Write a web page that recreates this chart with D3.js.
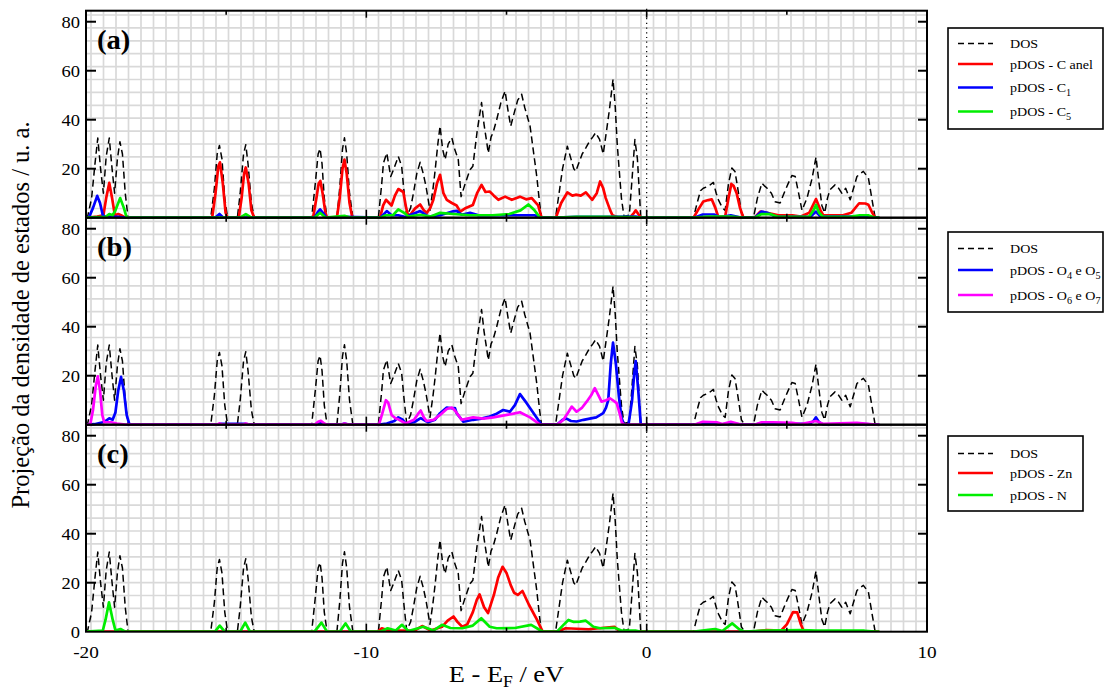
<!DOCTYPE html>
<html><head><meta charset="utf-8">
<script src="https://cdn.jsdelivr.net/npm/d3@7"></script>
<style>
body{margin:0;background:#fff}
svg{display:block}
</style>
</head><body><svg id="chart" width="1112" height="695" font-family="'Liberation Serif', 'DejaVu Serif', serif"></svg>
<script>
// ---------- data ----------
const xTicksMajor = [-20, -10, 0, 10];
const xTicksMinor = [-15, -5, 5];
const yTicks = [20, 40, 60, 80];
const panelLabels = ["(a)", "(b)", "(c)"];

const dos = [[-20,0],[-19.95,0],[-19.8,8],[-19.68,22],[-19.58,32.5],[-19.48,20],[-19.38,10],[-19.28,25],[-19.17,32.5],[-19.07,20],[-18.98,10],[-18.88,24],[-18.79,31],[-18.7,26],[-18.6,10],[-18.5,0],
[-15.55,0],[-15.42,12],[-15.32,26],[-15.24,29.5],[-15.15,24],[-15.05,8],[-14.95,0],
[-14.6,0],[-14.5,10],[-14.38,26],[-14.3,29.8],[-14.22,22],[-14.1,6],[-14.0,0],
[-11.95,0],[-11.82,14],[-11.72,26],[-11.65,28.2],[-11.58,22],[-11.5,8],[-11.4,0],
[-11.05,0],[-10.95,12],[-10.85,28],[-10.78,32.6],[-10.7,26],[-10.6,10],[-10.48,0],
[-9.57,0],[-9.45,14],[-9.39,22.3],[-9.27,26.4],[-9.13,16.8],[-9.03,19.6],[-8.86,25],[-8.74,21],[-8.65,10],[-8.56,0.5],[-8.42,4],[-8.32,10],[-8.2,18],[-8.08,22.6],[-7.97,18],[-7.87,12.7],[-7.73,3],[-7.62,12],[-7.55,18.9],[-7.45,30],[-7.37,37.4],[-7.28,28],[-7.19,23.7],[-7.08,30],[-6.95,32.6],[-6.85,28],[-6.72,23.7],[-6.62,8.6],[-6.5,13],[-6.38,17],[-6.3,19.6],[-6.2,21],[-6.05,35],[-5.89,47],[-5.8,38],[-5.72,32],[-5.65,26.4],[-5.55,33],[-5.48,34.7],[-5.35,40],[-5.2,47],[-5.05,51.7],[-4.95,44],[-4.85,37.4],[-4.72,43],[-4.6,48],[-4.46,50.4],[-4.35,45],[-4.16,37.4],[-4.05,28],[-3.92,16.8],[-3.82,6],[-3.75,0],
[-3.25,0],[-3.1,12],[-3.0,20],[-2.83,29.2],[-2.7,24],[-2.6,20],[-2.53,18.9],[-2.43,22],[-2.3,26],[-2.17,28.5],[-2.05,31],[-1.92,33],[-1.82,34.7],[-1.68,32],[-1.55,26],[-1.45,34],[-1.33,44],[-1.2,56.5],[-1.12,45],[-1.05,30],[-0.99,21],[-0.9,8],[-0.81,0.5],[-0.62,1],[-0.52,16],[-0.42,31.9],[-0.33,24],[-0.26,10],[-0.21,0],
[1.67,0],[1.8,6],[1.92,11],[2.02,12],[2.12,12.5],[2.22,13],[2.38,14.4],[2.48,10],[2.56,7.3],[2.7,4],[2.8,3],[2.92,14],[3.04,20.3],[3.15,18.9],[3.25,12],[3.38,2],[3.5,0],
[3.81,0],[3.95,8],[4.11,14.1],[4.2,13],[4.29,12.1],[4.45,10],[4.58,6.5],[4.76,6],[4.9,10],[5.05,14],[5.18,17.2],[5.3,16.8],[5.42,10],[5.54,3],[5.72,8],[5.9,16],[6.04,24.7],[6.15,14],[6.25,5],[6.35,2],[6.45,8],[6.54,11.4],[6.72,13.4],[6.85,12],[6.96,10],[7.1,12],[7.26,7.3],[7.38,12],[7.5,16.8],[7.62,18],[7.73,18.9],[7.91,16.2],[8.03,8],[8.15,0],[8.3,0]];

const cAnel = [[-20,0],[-19.9,0],[-19.6,0.5],[-19.38,1],[-19.28,8],[-19.17,14.2],[-19.07,8],[-18.97,1],[-18.85,1.5],[-18.75,1],[-18.6,0],
[-15.5,0],[-15.38,10],[-15.28,21],[-15.22,22.6],[-15.12,14],[-15.02,2],[-14.95,0],
[-14.55,0],[-14.45,8],[-14.36,18],[-14.3,20.5],[-14.2,14],[-14.1,3],[-14.0,0],
[-11.9,0],[-11.78,8],[-11.7,14],[-11.64,15],[-11.56,10],[-11.46,2],[-11.4,0],
[-11.05,0],[-10.95,8],[-10.85,20],[-10.78,23.7],[-10.7,18],[-10.6,6],[-10.5,0],
[-9.51,0],[-9.4,5],[-9.3,7.3],[-9.1,5],[-8.98,9],[-8.86,11.7],[-8.68,10.5],[-8.58,4],[-8.5,0.5],[-8.38,2],[-8.26,3.8],[-8.08,5.4],[-7.95,3],[-7.84,2],[-7.72,4],[-7.61,7.3],[-7.48,14],[-7.37,17.5],[-7.25,10],[-7.13,7.3],[-6.95,6],[-6.78,5],[-6.65,2.5],[-6.45,4],[-6.2,5.2],[-6.05,10],[-5.89,13.4],[-5.75,10.5],[-5.6,10.7],[-5.45,9],[-5.29,7.3],[-5.05,8.6],[-4.81,7.3],[-4.52,8.6],[-4.3,7.5],[-4.1,8],[-3.87,5],[-3.75,0],
[-3.24,0],[-3.05,6],[-2.83,10.3],[-2.65,9],[-2.53,9.4],[-2.35,9],[-2.17,10.3],[-1.94,7.3],[-1.78,10],[-1.66,14.8],[-1.55,12],[-1.46,8],[-1.3,3],[-1.22,1],[-0.99,0],[-0.6,0],[-0.45,2],[-0.39,3],[-0.3,1.5],[-0.2,0],
[1.67,0],[1.85,3.5],[2.02,6.6],[2.2,7.2],[2.32,7.5],[2.45,4],[2.55,0.5],[2.8,0.5],[2.92,8],[3.02,13.8],[3.1,13],[3.21,10],[3.33,4],[3.45,0],
[3.85,0],[4.05,2.5],[4.29,2],[4.5,1.5],[4.7,1],[5.2,1],[5.5,0.5],[5.8,2],[6.04,7.6],[6.2,3],[6.3,1],[6.6,1],[7.0,1],[7.3,2],[7.58,5.9],[7.8,5.8],[7.91,5.3],[8.05,2],[8.15,0],[8.3,0]];

const c1 = [[-20,0],[-19.9,0],[-19.75,4],[-19.6,8.9],[-19.5,6],[-19.4,1],[-19.3,0.3],[-19.17,0.5],[-18.8,0.3],[-18.6,0],
[-15.4,0],[-15.24,1.5],[-15.1,0],
[-11.85,0],[-11.72,2.5],[-11.65,3.4],[-11.55,2],[-11.42,0],[-10.78,0.3],
[-9.5,0],[-9.27,2.7],[-9.1,1],[-8.86,1],[-8.6,0.3],[-8.08,2.7],[-7.8,0.5],[-7.37,1],[-6.9,2.6],[-6.78,2.8],[-6.6,1.2],[-6.3,2],[-6.0,1],[-5.5,1],[-5.0,1],[-4.5,1],[-4.0,1],[-3.75,0],
[-3.2,0],[-2.5,0.3],[-1.5,0.3],[-0.39,0.5],[-0.2,0],
[1.7,0],[2.0,1.3],[2.4,1.3],[2.6,0.2],[3.0,1],[3.4,0],
[3.85,0],[4.1,2.5],[4.3,2],[4.6,0.5],[5.5,0.3],[5.85,0.5],[6.04,2.5],[6.2,0.5],[7.6,0.5],[8.15,0],[8.3,0]];

const c5 = [[-20,0],[-19.3,0.3],[-19.17,1.5],[-19.05,1],[-18.95,3],[-18.78,8],[-18.65,4],[-18.55,0],
[-14.5,0],[-14.3,1.5],[-14.1,0],
[-11.85,0],[-11.65,2],[-11.45,0],[-10.78,0.8],[-10.55,0],
[-9.5,0],[-9.3,1],[-9.05,1],[-8.86,3.4],[-8.65,2],[-8.5,0.5],[-8.08,1.2],[-7.7,0.5],[-7.37,2],[-6.9,1.5],[-6.3,1],[-5.5,1],[-4.9,1.5],[-4.5,3],[-4.22,5.4],[-4.0,3],[-3.8,0],
[-3.2,0],[-2.5,0.3],[-1.5,0.3],[-0.5,0.2],[-0.2,0],
[1.7,0],[2.2,0.5],[3.0,0.5],[3.4,0],
[3.85,0],[4.1,1.5],[4.4,1.5],[4.7,0.3],[5.8,0.5],[5.95,3],[6.04,5.2],[6.15,2],[6.3,0.3],[7.3,0.5],[7.6,1],[7.9,1],[8.15,0],[8.3,0]];

const o45 = [[-20,0],[-19.7,0.2],[-19.4,1],[-19.3,1.5],[-19.17,2.6],[-19.05,2],[-18.95,5],[-18.85,14],[-18.75,19.5],[-18.65,14],[-18.55,4],[-18.45,0],
[-15.3,0],[-15.24,0.3],[-14.3,0.3],[-14.1,0],
[-11.8,0],[-11.65,1],[-11.5,0],[-10.9,0],[-10.78,0.5],[-10.6,0],
[-9.55,0],[-9.27,0.5],[-9.0,1.5],[-8.86,3],[-8.7,2],[-8.6,0.5],[-8.3,1],[-8.06,2.7],[-7.8,1],[-7.55,2],[-7.37,4.7],[-7.13,7],[-6.95,6.7],[-6.84,6.8],[-6.78,4.7],[-6.54,1.2],[-6.19,2],[-5.9,2.5],[-5.6,3.3],[-5.35,4.5],[-5.12,6],[-4.88,5.3],[-4.7,8],[-4.52,12.5],[-4.28,8.8],[-3.99,4],[-3.75,0],
[-3.2,0],[-3.0,2],[-2.86,2.5],[-2.7,1.5],[-2.5,1.3],[-2.25,2],[-2.03,2.5],[-1.8,3],[-1.55,4.7],[-1.45,7],[-1.37,10],[-1.28,25],[-1.2,33.5],[-1.1,25],[-0.99,11.5],[-0.9,3],[-0.81,0],[-0.65,0],[-0.52,10],[-0.45,20],[-0.39,26],[-0.3,14],[-0.21,0],
[1.7,0],[2.0,0.5],[2.4,0.5],[2.6,0],[3.0,0.5],[3.4,0],
[3.85,0],[4.1,0.5],[4.5,0.3],[5.8,0.3],[5.95,1.5],[6.04,3],[6.15,1],[6.3,0],[7.6,0.3],[8.15,0],[8.3,0]];

const o67 = [[-20,0],[-19.85,0],[-19.75,6],[-19.65,16],[-19.58,19.7],[-19.5,14],[-19.42,4],[-19.35,1],[-19.1,1],[-18.9,0.5],[-18.6,0],
[-15.35,0],[-15.24,0.5],[-15.1,0],[-14.4,0],[-14.3,0.5],[-14.15,0],
[-11.85,0],[-11.72,1.2],[-11.62,1.6],[-11.5,0.5],[-11.4,0],[-10.9,0],[-10.78,0.5],[-10.6,0],
[-9.55,0],[-9.42,5],[-9.3,10],[-9.22,9],[-9.1,4],[-8.95,2.5],[-8.86,2.2],[-8.6,0.5],[-8.3,2],[-8.15,4.5],[-8.06,5.8],[-7.95,3],[-7.85,1.5],[-7.6,2],[-7.37,4],[-7.13,6.4],[-6.95,7],[-6.84,5.8],[-6.6,2],[-6.4,2.5],[-6.19,3],[-5.83,2.5],[-5.47,3],[-4.99,4],[-4.75,4.5],[-4.52,5.1],[-4.16,3],[-3.8,0],
[-3.2,0],[-2.97,2],[-2.8,5],[-2.67,7.4],[-2.5,5.3],[-2.3,7],[-2.14,9.4],[-1.98,12],[-1.85,14.9],[-1.72,12],[-1.61,9.4],[-1.45,10],[-1.31,10.8],[-1.15,9.5],[-1.07,8.8],[-0.95,4],[-0.89,1],[-0.8,0],
[1.7,0],[2.0,1.2],[2.5,1],[2.7,0.3],[3.0,1.2],[3.4,0],
[3.85,0],[4.1,1],[4.5,1],[5.2,0.8],[5.5,0.3],[6.04,1.5],[6.3,0.3],[7.5,0.8],[8.15,0],[8.3,0]];

const zn = [[-20,0],[-9.6,0],[-9.45,1.4],[-9.2,0.5],[-8.8,0.5],[-8.3,0.3],[-8.01,2.3],[-7.7,0.5],[-7.3,2],[-7.1,4.5],[-6.89,6.2],[-6.75,4],[-6.58,2],[-6.4,3],[-6.2,8],[-6.06,13],[-5.96,15.2],[-5.8,10],[-5.66,7.6],[-5.45,15],[-5.3,22],[-5.14,26.5],[-5.0,24],[-4.85,19],[-4.73,15.9],[-4.6,15],[-4.43,16.6],[-4.2,11],[-3.91,4.8],[-3.71,0],
[-3.2,0],[-2.89,1.4],[-2.5,1.2],[-2.07,1],[-1.6,1.5],[-1.15,2],[-0.95,0],
[3.8,0],[4.28,0.7],[4.8,0.5],[5.0,3],[5.22,8],[5.37,7.9],[5.5,3],[5.61,0],[8.3,0]];

const nAtom = [[-20,0],[-19.4,0.5],[-19.3,5],[-19.18,12],[-19.05,5],[-18.95,0.5],[-18.77,1.1],[-18.6,0],
[-15.4,0],[-15.23,2.5],[-15.05,0],[-14.5,0],[-14.32,3.7],[-14.15,0],
[-11.85,0],[-11.6,3.7],[-11.4,0],[-10.95,0],[-10.74,3.4],[-10.55,0],
[-9.5,0],[-9.24,1.4],[-8.95,0.5],[-8.73,2.8],[-8.5,0.3],[-7.97,2],[-7.6,0.5],[-7.3,2.8],[-7.0,1.5],[-6.58,1.4],[-6.2,2.5],[-5.9,5.5],[-5.6,2],[-5.35,1.4],[-4.7,1.5],[-4.12,2.8],[-3.81,0.7],[-3.7,0],
[-3.2,0],[-2.95,3],[-2.79,4.8],[-2.6,4],[-2.38,4.1],[-2.17,4.5],[-1.9,2],[-1.66,1.4],[-1.15,1.6],[-0.9,0.5],[-0.4,0.5],[-0.2,0],
[1.7,0],[2.2,0.8],[2.44,1.1],[2.7,0.3],[3.05,3.4],[3.3,1],[3.5,0],
[4.2,0.5],[5.51,0.7],[6.04,0.5],[7.77,0.4],[8.15,0],[8.3,0]];

const seriesA = [
  {name:"DOS", data:dos, color:"#000", dash:true},
  {name:"pDOS - C anel", data:cAnel, color:"#ff0000"},
  {name:"pDOS - C_{1}", data:c1, color:"#0000ff"},
  {name:"pDOS - C_{5}", data:c5, color:"#00ee00"}
];
const seriesB = [
  {name:"DOS", data:dos, color:"#000", dash:true},
  {name:"pDOS - O_{4} e O_{5}", data:o45, color:"#0000ff"},
  {name:"pDOS - O_{6} e O_{7}", data:o67, color:"#ff00ff"}
];
const seriesC = [
  {name:"DOS", data:dos, color:"#000", dash:true},
  {name:"pDOS - Zn", data:zn, color:"#ff0000"},
  {name:"pDOS - N", data:nAtom, color:"#00ee00"}
];

// ---------- layout ----------
const FONT = "'Liberation Serif', 'DejaVu Serif', serif";
const svg = d3.select("#chart");
const L = 86, R = 927, T0 = 10.7, PH = 207;
const x = d3.scaleLinear().domain([-20, 10]).range([L, R]);
const panelTops = [T0, T0 + PH, T0 + 2 * PH];
const B = T0 + 3 * PH;

// helper: text anchored at (px,py) with horizontal stretch sx
function txt(px, py, size, sx, anchor) {
  return svg.append("text")
    .attr("transform", `translate(${px},${py}) scale(${sx},1)`)
    .attr("font-family", FONT).attr("font-size", size)
    .attr("text-anchor", anchor || "start");
}

// background grid (independent of axes)
const gx = d3.scaleLinear().domain([0, 1]).range([L + 5, L + 17.5]);
const gy = d3.scaleLinear().domain([0, 1]).range([T0 + 4.3, T0 + 17.2]);
const grid = svg.append("g").attr("stroke", "#d9d9d9").attr("stroke-width", 1.7);
for (let i = 0; gx(i) < R; i++) grid.append("line").attr("x1", gx(i)).attr("x2", gx(i)).attr("y1", T0).attr("y2", B);
for (let j = 0; gy(j) < B; j++) grid.append("line").attr("x1", L).attr("x2", R).attr("y1", gy(j)).attr("y2", gy(j));

svg.append("defs").append("clipPath").attr("id", "clip")
  .append("rect").attr("x", L).attr("y", T0).attr("width", R - L).attr("height", B - T0);

const panels = [seriesA, seriesB, seriesC];
panels.forEach((series, pi) => {
  const top = panelTops[pi];
  const y = d3.scaleLinear().domain([0, 84.5]).range([top + PH, top]);
  const line = d3.line().x(d => x(d[0])).y(d => y(d[1]));
  const g = svg.append("g").attr("clip-path", "url(#clip)");
  series.forEach(s => {
    g.append("path").attr("d", line(s.data)).attr("fill", "none")
      .attr("stroke", s.color)
      .attr("stroke-width", s.dash ? 1.5 : 2.7)
      .attr("stroke-linejoin", "round")
      .attr("stroke-dasharray", s.dash ? "7,4" : null);
  });

  svg.append("rect").attr("x", L).attr("y", top).attr("width", R - L).attr("height", PH)
    .attr("fill", "none").attr("stroke", "#000").attr("stroke-width", 2);

  const yt = pi === 2 ? [0].concat(yTicks) : yTicks;
  yTicks.forEach(v => {
    svg.append("line").attr("x1", L).attr("x2", L + 10).attr("y1", y(v)).attr("y2", y(v)).attr("stroke", "#000").attr("stroke-width", 2);
    svg.append("line").attr("x1", R).attr("x2", R - 9).attr("y1", y(v)).attr("y2", y(v)).attr("stroke", "#000").attr("stroke-width", 2);
  });
  yt.forEach(v => {
    txt(L - 6, y(v) + 6, 17.5, 1.06, "end").text(v);
  });

  xTicksMajor.forEach(v => {
    svg.append("line").attr("x1", x(v)).attr("x2", x(v)).attr("y1", top).attr("y2", top + 7).attr("stroke", "#000").attr("stroke-width", 1.6);
    svg.append("line").attr("x1", x(v)).attr("x2", x(v)).attr("y1", top + PH).attr("y2", top + PH - 8).attr("stroke", "#000").attr("stroke-width", 1.6);
  });
  xTicksMinor.forEach(v => {
    svg.append("line").attr("x1", x(v)).attr("x2", x(v)).attr("y1", top).attr("y2", top + 4).attr("stroke", "#000").attr("stroke-width", 1.6);
    svg.append("line").attr("x1", x(v)).attr("x2", x(v)).attr("y1", top + PH).attr("y2", top + PH - 4).attr("stroke", "#000").attr("stroke-width", 1.6);
  });

  txt(L + 11, top + 38, 27, 1.06).attr("font-weight", "bold").text(panelLabels[pi]);
});

svg.append("line").attr("x1", x(0)).attr("x2", x(0)).attr("y1", T0 - 2).attr("y2", B)
  .attr("stroke", "#000").attr("stroke-width", 1.2).attr("stroke-dasharray", "1.2,3.5");

xTicksMajor.forEach(v => {
  txt(x(v), B + 26, 17.5, 1.1, "middle").text(v);
});

const xt = txt(x(-5), B + 50, 24, 1.1, "middle");
xt.append("tspan").text("E - E");
xt.append("tspan").attr("font-size", 16).attr("dy", 5).text("F");
xt.append("tspan").attr("dy", -5).text(" / eV");

svg.append("text").attr("transform", `translate(29,315) rotate(-90)`).attr("font-family", FONT)
  .attr("text-anchor", "middle").attr("font-size", 24.5).text("Projeção da densidade de estados / u. a.");

const legends = [
  {series: seriesA, box: [948, 28, 155, 101], rows: [43.5, 64, 87.5, 111.5]},
  {series: seriesB, box: [948, 232, 155, 80], rows: [248.5, 270, 295]},
  {series: seriesC, box: [948, 436, 135, 75], rows: [453.5, 473, 495]}
];
function addLabel(t, str) {
  const parts = str.split(/(_\{[^}]*\})/).filter(p => p.length);
  let shifted = false;
  parts.forEach(p => {
    const m = p.match(/^_\{([^}]*)\}$/);
    if (m) { t.append("tspan").attr("font-size", 9.5).attr("dy", 4).text(m[1]); shifted = true; }
    else { const ts = t.append("tspan").text(p); if (shifted) { ts.attr("dy", -4); shifted = false; } }
  });
}
legends.forEach(lg => {
  const [bx, by, bw, bh] = lg.box;
  svg.append("rect").attr("x", bx).attr("y", by).attr("width", bw).attr("height", bh)
    .attr("fill", "#fff").attr("stroke", "#000").attr("stroke-width", 1.6);
  lg.series.forEach((s, i) => {
    const ry = lg.rows[i];
    svg.append("line").attr("x1", bx + 10).attr("x2", bx + 45).attr("y1", ry).attr("y2", ry)
      .attr("stroke", s.color).attr("stroke-width", s.dash ? 1.5 : 2.6)
      .attr("stroke-dasharray", s.dash ? "6,4" : null);
    const t = txt(bx + 62, ry + 4.5, 13, 1.08);
    addLabel(t, s.name);
  });
});
</script>
</body></html>
